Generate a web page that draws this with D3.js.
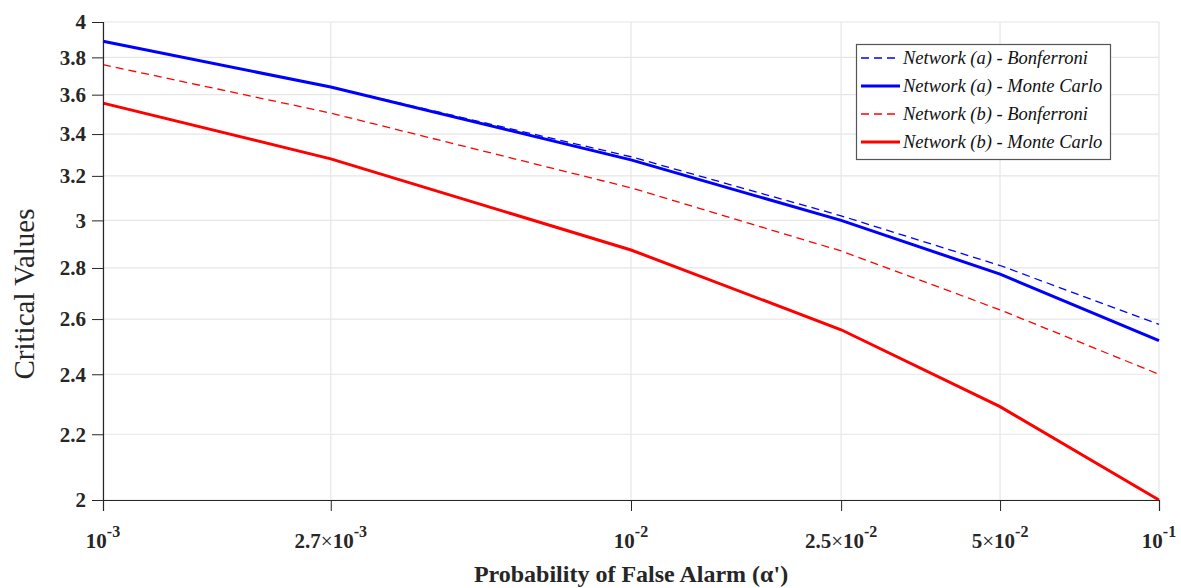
<!DOCTYPE html>
<html>
<head>
<meta charset="utf-8">
<script src="https://cdn.jsdelivr.net/npm/d3@7"></script>
<style>
  body { margin: 0; background: #fff; }
  svg { display: block; }
</style>
</head>
<body>
<svg id="chart" width="1181" height="588"></svg>
<script>
// ---- data ----
const alphas = [1e-3, 2.7e-3, 1e-2, 2.5e-2, 5e-2, 1e-1];
const netA_Bonferroni = [3.89, 3.64, 3.29, 3.02, 2.81, 2.58];
const netA_MonteCarlo = [3.89, 3.64, 3.275, 3.00, 2.775, 2.52];
const netB_Bonferroni = [3.76, 3.505, 3.145, 2.87, 2.635, 2.40];
const netB_MonteCarlo = [3.556, 3.28, 2.874, 2.56, 2.29, 2.00];
const seriesNames = ["Network (a) - Bonferroni", "Network (a) - Monte Carlo", "Network (b) - Bonferroni", "Network (b) - Monte Carlo"];
const xTickMant = ["", "2.7", "", "2.5", "5", ""];
const xTickExp = ["-3", "-3", "-2", "-2", "-2", "-1"];
const yTicks = [2, 2.2, 2.4, 2.6, 2.8, 3, 3.2, 3.4, 3.6, 3.8, 4];

const series = [
  { name: seriesNames[0], values: netA_Bonferroni, color: "#0000ff", width: 1.3, dash: "8,5" },
  { name: seriesNames[1], values: netA_MonteCarlo, color: "#0000ff", width: 3, dash: null },
  { name: seriesNames[2], values: netB_Bonferroni, color: "#ff0000", width: 1.3, dash: "8,5" },
  { name: seriesNames[3], values: netB_MonteCarlo, color: "#ff0000", width: 3, dash: null }
];

const font = "'Palatino Linotype', 'Book Antiqua', Palatino, 'URW Palladio L', 'Liberation Serif', 'DejaVu Serif', serif";
const svg = d3.select("#chart");
const L = 103, R = 1159, T = 22, B = 500;

const x = d3.scaleLog().domain([1e-3, 1e-1]).range([L, R]);
const y = d3.scaleLog().domain([2, 4]).range([B, T]);

// grid
const grid = svg.append("g");
grid.selectAll("line.gy").data(yTicks).enter().append("line")
  .attr("x1", L).attr("x2", R).attr("y1", d => y(d)).attr("y2", d => y(d))
  .attr("stroke", "#e6e6e6").attr("stroke-width", 1.2);
grid.selectAll("line.gx").data(alphas).enter().append("line")
  .attr("x1", d => x(d)).attr("x2", d => x(d)).attr("y1", T).attr("y2", B)
  .attr("stroke", "#e6e6e6").attr("stroke-width", 1.2);

// lines
const line = d3.line().x((d, i) => x(alphas[i])).y(d => y(d));
series.forEach(s => {
  svg.append("path").datum(s.values)
    .attr("d", line).attr("fill", "none")
    .attr("stroke", s.color).attr("stroke-width", s.width)
    .attr("stroke-dasharray", s.dash);
});

// axes
const yAxis = d3.axisLeft(y).tickValues(yTicks).tickFormat(d3.format("")).tickSizeOuter(0).tickSize(11).tickPadding(6);
const gy = svg.append("g").attr("transform", `translate(${L},0)`).call(yAxis);
gy.selectAll("text").attr("font-family", font).attr("font-size", 21).attr("font-weight", "bold").attr("fill", "#262626");
gy.selectAll("line").attr("stroke", "#262626");
gy.select(".domain").attr("stroke", "#262626").attr("stroke-width", 1.2);

const xAxis = d3.axisBottom(x).tickValues(alphas).tickFormat("").tickSizeOuter(0).tickSize(11);
const gx = svg.append("g").attr("transform", `translate(0,${B})`).call(xAxis);
gx.selectAll("line").attr("stroke", "#262626");
gx.select(".domain").attr("stroke", "#262626").attr("stroke-width", 1.2);

alphas.forEach((a, i) => {
  const t = svg.append("text").attr("x", x(a)).attr("y", 548)
    .attr("text-anchor", "middle").attr("font-family", font)
    .attr("font-size", 21).attr("font-weight", "bold").attr("fill", "#262626");
  if (xTickMant[i]) {
    t.append("tspan").text(xTickMant[i]);
    t.append("tspan").attr("font-weight", "normal").text("\u00D7");
    t.append("tspan").text("10");
  } else {
    t.append("tspan").text("10");
  }
  t.append("tspan").attr("dy", -11).attr("font-size", 16).text(xTickExp[i]);
});

// axis labels
svg.append("text").attr("x", 631).attr("y", 582).attr("text-anchor", "middle")
  .attr("font-family", font).attr("font-size", 24).attr("font-weight", "bold").attr("fill", "#262626")
  .text("Probability of False Alarm (\u03B1')");
svg.append("text").attr("transform", "translate(34,294) rotate(-90)").attr("text-anchor", "middle")
  .attr("font-family", font).attr("font-size", 29).attr("fill", "#262626")
  .text("Critical Values");

// legend
const lg = svg.append("g");
lg.append("rect").attr("x", 856.5).attr("y", 44.5).attr("width", 254).attr("height", 115)
  .attr("fill", "#fff").attr("stroke", "#555").attr("stroke-width", 1.2);
series.forEach((s, i) => {
  const yy = 58 + i * 28;
  lg.append("line").attr("x1", 861).attr("x2", 900).attr("y1", yy).attr("y2", yy)
    .attr("stroke", s.color).attr("stroke-width", s.width).attr("stroke-dasharray", s.dash);
  lg.append("text").attr("x", 903).attr("y", yy + 6).attr("font-family", font)
    .attr("font-size", 18.5).attr("font-style", "italic").attr("fill", "#111").text(s.name);
});
</script>
</body>
</html>
